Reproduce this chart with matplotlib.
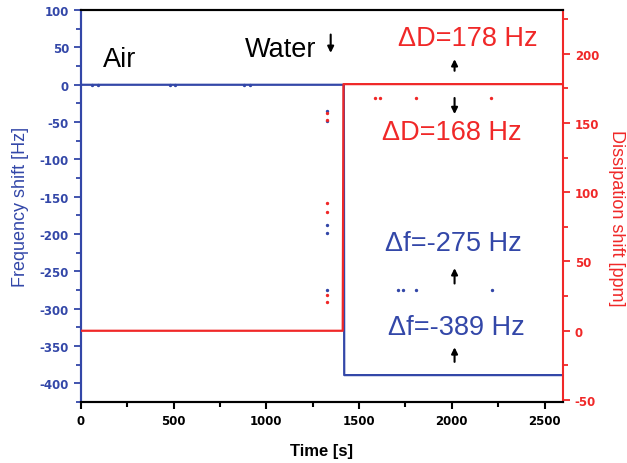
import numpy as np
import matplotlib.pyplot as plt
from matplotlib.ticker import MultipleLocator

plt.rcParams['font.family'] = ['Liberation Sans', 'DejaVu Sans']
plt.rcParams['axes.unicode_minus'] = False

blue = '#3347a8'
red = '#f02828'

# QCM step: air -> water
t_freq = [0, 1418, 1420, 2600]
freq = [0, 0, -389, -389]
t_diss = [0, 1412, 1416, 2600]
diss = [0, 0, 178, 178]

# scattered single readings
t_fdots = [59, 91, 480, 507, 878, 910, 1325, 1325, 1325, 1325, 1325, 1708, 1735, 1805, 2218]
fdots = [0, 0, 0, 0, 0, 0, -35, -48, -188, -199, -275, -275, -275, -275, -275]
t_ddots = [1325, 1325, 1325, 1325, 1325, 1325, 1584, 1611, 1805, 2213]
ddots = [157, 152, 92, 86, 26, 21, 168, 168, 168, 168]

fig = plt.figure(figsize=(6.27, 4.64), dpi=100)
ax = fig.add_axes([0.129, 0.1315, 0.769, 0.8445])
ax2 = ax.twinx()

ax.plot(t_freq, freq, color=blue, lw=1.6, zorder=3)
ax.scatter(t_fdots, fdots, s=2, color=blue, zorder=3)
ax2.plot(t_diss, diss, color=red, lw=1.6, zorder=3)
ax2.scatter(t_ddots, ddots, s=2, color=red, zorder=3)

ax.set_xlim(0, 2600)
ax.set_ylim(-425, 100)
ax2.set_ylim(-51.4, 231.4)

ax.xaxis.set_major_locator(MultipleLocator(500))
ax.xaxis.set_minor_locator(MultipleLocator(250))
ax.yaxis.set_major_locator(MultipleLocator(50))
ax.yaxis.set_minor_locator(MultipleLocator(25))
ax2.yaxis.set_major_locator(MultipleLocator(50))
ax2.yaxis.set_minor_locator(MultipleLocator(25))

for a in (ax, ax2):
    for s in a.spines.values():
        s.set_linewidth(1.5)
ax.spines['left'].set_color(blue)
ax2.spines['left'].set_color(blue)
ax2.spines['right'].set_color(red)
ax.spines['right'].set_visible(False)

ax.tick_params(axis='x', which='both', direction='out', color='k', width=1.5,
               labelsize=8.5, top=False)
ax.tick_params(axis='x', which='major', length=5)
ax.tick_params(axis='x', which='minor', length=3.5)
ax.tick_params(axis='y', which='both', direction='out', color=blue, labelcolor=blue,
               width=1.3, labelsize=8.5)
ax.tick_params(axis='y', which='major', length=5)
ax.tick_params(axis='y', which='minor', length=3.5)
ax2.tick_params(axis='y', which='both', direction='out', color=red, labelcolor=red,
                width=1.3, labelsize=8.5)
ax2.tick_params(axis='y', which='major', length=5)
ax2.tick_params(axis='y', which='minor', length=3.5)
for lab in ax.get_xticklabels() + ax.get_yticklabels() + ax2.get_yticklabels():
    lab.set_fontweight('bold')
    lab.set_family('DejaVu Sans')

ax.set_xlabel('Time [s]', fontsize=12, fontweight='bold', labelpad=12)
ax.set_ylabel('Frequency shift [Hz]', fontsize=13, color=blue, labelpad=8)
# right-hand label placed in figure coords so it stays inside the canvas
fig.text(617 / 627, 1 - 218 / 464, 'Dissipation shift [ppm]', fontsize=13,
         color=red, rotation=270, ha='center', va='center')

# annotations
big = 19.5
ax.text(210, 35, 'Air', fontsize=big, ha='center', va='center', color='k')
ax.text(1078, 48, 'Water', fontsize=big, ha='center', va='center', color='k')
arrow = dict(arrowstyle='-|>', color='k', lw=1.5, mutation_scale=9)
ax.annotate('', xy=(1347, 39), xytext=(1347, 71), arrowprops=arrow)

ax.text(2085, 62, '\u0394D=178 Hz', fontsize=big, ha='center', va='center', color=red)
ax.annotate('', xy=(2015, 38), xytext=(2015, 15), arrowprops=arrow)
ax.text(2000, -63, '\u0394D=168 Hz', fontsize=big, ha='center', va='center', color=red)
ax.annotate('', xy=(2015, -43), xytext=(2015, -14), arrowprops=arrow)
ax.text(2010, -212, '\u0394f=-275 Hz', fontsize=big, ha='center', va='center', color=blue)
ax.annotate('', xy=(2015, -242), xytext=(2015, -270), arrowprops=arrow)
ax.text(2025, -325, '\u0394f=-389 Hz', fontsize=big, ha='center', va='center', color=blue)
ax.annotate('', xy=(2015, -348), xytext=(2015, -375), arrowprops=arrow)

fig.savefig('out.png', dpi=100)
